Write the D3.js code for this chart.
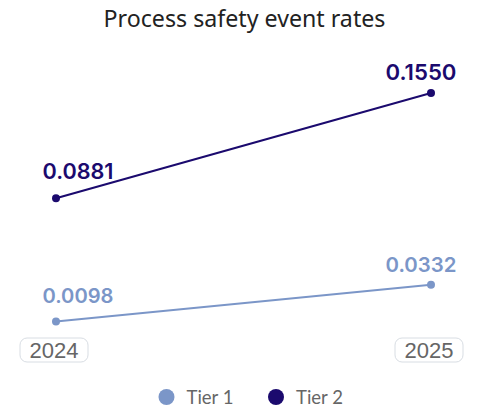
<!DOCTYPE html>
<html>
<head>
<meta charset="utf-8">
<script src="https://cdn.jsdelivr.net/npm/d3@7/dist/d3.min.js"></script>
<style>
  html, body { margin: 0; padding: 0; background: #fff; }
  svg { display: block; }
</style>
</head>
<body>
<div id="chart"></div>
<script>
// Process safety event rates by tier
const years = ["2024", "2025"];
const seriesNames = ["Tier 1", "Tier 2"];
const tier1 = [0.0098, 0.0332];
const tier2 = [0.0881, 0.1550];
const colors = ["#7b96c8", "#1b0a6e"];

const W = 487, H = 407;
const svg = d3.select("#chart").append("svg")
  .attr("width", W).attr("height", H);

// scale a text's font size so it spans a given width
function fitWidth(sel, target) {
  const fs = parseFloat(sel.attr("font-size"));
  const w = sel.node().getComputedTextLength();
  if (w > 0) sel.attr("font-size", (fs * target / w).toFixed(2));
  return sel;
}

const title = svg.append("text")
  .attr("x", W / 2 + 1).attr("y", 27)
  .attr("text-anchor", "middle")
  .attr("font-family", "'Noto Sans', sans-serif")
  .attr("font-size", 22)
  .attr("font-weight", 400)
  .attr("fill", "#222")
  .text("Process safety event rates");
fitWidth(title, 282);

const x = d3.scalePoint().domain(years).range([56, 431]);
const y = d3.scaleLinear().domain([0, 0.155]).range([337, 93]);

const series = [
  { name: seriesNames[0], values: tier1, color: colors[0] },
  { name: seriesNames[1], values: tier2, color: colors[1] }
];

const line = d3.line()
  .x((d, i) => x(years[i]))
  .y(d => y(d));

const g = svg.append("g");

series.forEach((s, si) => {
  g.append("path")
    .datum(s.values)
    .attr("d", line)
    .attr("fill", "none")
    .attr("stroke", s.color)
    .attr("stroke-width", 2);

  g.selectAll(null)
    .data(s.values)
    .enter().append("circle")
    .attr("cx", (d, i) => x(years[i]))
    .attr("cy", d => y(d))
    .attr("r", 4)
    .attr("fill", s.color);

  // value labels, kept inside the plot edges
  g.selectAll(null)
    .data(s.values)
    .enter().append("text")
    .attr("x", (d, i) => x(years[i]) + (i === 0 ? 22 : -10))
    .attr("y", (d, i) => y(d) - (i === 0 ? 19 : 13))
    .attr("text-anchor", "middle")
    .attr("font-family", "Inter, 'Noto Sans', sans-serif")
    .attr("font-size", 21)
    .attr("font-weight", 600)
    .attr("fill", s.color)
    .text(d => d.toFixed(4))
    .each(function () { fitWidth(d3.select(this), 71); });
});

// x-axis category labels in rounded boxes
const xg = svg.append("g");
years.forEach(yr => {
  const cx = x(yr) - 2;
  xg.append("rect")
    .attr("x", cx - 34).attr("y", 338)
    .attr("width", 68).attr("height", 24)
    .attr("rx", 7)
    .attr("fill", "#fff")
    .attr("stroke", "#d8dde3")
    .attr("stroke-width", 1);
  const t = xg.append("text")
    .attr("x", cx).attr("y", 357.5)
    .attr("text-anchor", "middle")
    .attr("font-family", "'Liberation Sans', Arial, sans-serif")
    .attr("font-size", 21)
    .attr("fill", "#666")
    .text(yr);
  fitWidth(t, 49);
});

// legend
const legend = svg.append("g");
const legendX = [166.5, 276];
series.forEach((s, i) => {
  legend.append("circle")
    .attr("cx", legendX[i]).attr("cy", 397)
    .attr("r", 8)
    .attr("fill", s.color);
  const t = legend.append("text")
    .attr("x", legendX[i] + 20).attr("y", 404)
    .attr("font-family", "Lato, 'Noto Sans', sans-serif")
    .attr("font-size", 18)
    .attr("fill", "#666")
    .text(s.name);
  fitWidth(t, 47);
});
</script>
</body>
</html>
